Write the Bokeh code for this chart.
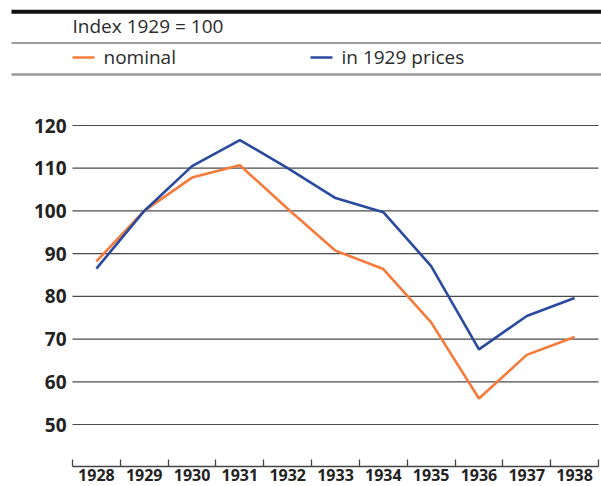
from bokeh.plotting import figure
from bokeh.models import Range1d, FixedTicker
from bokeh.embed import file_html
from bokeh.resources import INLINE
from bokeh.core.properties import value

# ---- data ----
years = ["1928", "1929", "1930", "1931", "1932", "1933", "1934", "1935", "1936", "1937", "1938"]
nominal = [88.2, 100.0, 107.8, 110.7, 100.5, 90.7, 86.4, 73.9, 56.1, 66.3, 70.5]
real_1929 = [86.5, 100.0, 110.5, 116.6, 110.0, 103.0, 99.7, 87.1, 67.6, 75.4, 79.6]
y_ticks = [50, 60, 70, 80, 90, 100, 110, 120]
series_names = ["nominal", "in 1929 prices"]
header_text = "Index 1929 = 100"

ORANGE = "#F47B3B"
BLUE = "#2A4A9E"
TEXT = "#2B2B2B"
FONT = "Open Sans"

W, H = 601, 486
# chart geometry in canvas pixels (frame spans the whole canvas)
X0, X1 = 72, 598              # first / last category boundary
Y_TOP_TICK, Y_TOP_PX = 120, 125
Y_BOT_TICK, Y_BOT_PX = 50, 424
AXIS_PX = 466

n = len(years)
cw = (X1 - X0) / n
ppu = (Y_BOT_PX - Y_TOP_PX) / (Y_TOP_TICK - Y_BOT_TICK)
x_lo, x_hi = -X0 / cw, (W - X0) / cw
y_hi = Y_TOP_TICK + Y_TOP_PX / ppu
y_lo = Y_BOT_TICK - (H - Y_BOT_PX) / ppu
axis_val = Y_BOT_TICK - (AXIS_PX - Y_BOT_PX) / ppu

p = figure(width=W, height=H, x_range=Range1d(x_lo, x_hi), y_range=Range1d(y_lo, y_hi),
           toolbar_location=None, output_backend="svg", min_border=0)
p.extra_x_ranges = {"px": Range1d(0, W)}
p.extra_y_ranges = {"px": Range1d(H, 0)}
p.outline_line_color = None
p.background_fill_color = "white"
p.border_fill_color = "white"
p.grid.visible = False

# horizontal grid lines, spanning the category area only
p.segment(x0=[0] * len(y_ticks), x1=[n] * len(y_ticks), y0=y_ticks, y1=y_ticks,
          line_color="#4a4a4a", line_width=1.2)

xs = [i + 0.5 for i in range(n)]
colors = [ORANGE, BLUE]
for series, c in zip([nominal, real_1929], colors):
    p.line(xs, series, line_color=c, line_width=2.6)

# y axis drawn at the left edge of the category area
ya = p.yaxis[0]
ya.fixed_location = 0
ya.ticker = FixedTicker(ticks=y_ticks)
ya.axis_line_color = None
ya.major_tick_line_color = None
ya.minor_tick_line_color = None
ya.major_tick_in = 0
ya.major_tick_out = 0
ya.minor_tick_in = 0
ya.minor_tick_out = 0
ya.major_label_standoff = 6
ya.major_label_text_font = FONT
ya.major_label_text_font_style = "bold"
ya.major_label_text_font_size = "19px"
ya.major_label_text_color = "#222222"

# x axis: labels at category centres, ticks at category boundaries
xa = p.xaxis[0]
xa.fixed_location = axis_val
xa.bounds = (0, n)
xa.ticker = FixedTicker(ticks=xs, minor_ticks=list(range(n + 1)))
xa.major_label_overrides = {x: y for x, y in zip(xs, years)}
xa.major_tick_line_color = None
xa.major_tick_in = 0
xa.major_tick_out = 0
xa.minor_tick_in = 7
xa.minor_tick_out = 0
xa.minor_tick_line_color = "#444444"
xa.minor_tick_line_width = 1.3
xa.axis_line_color = "#444444"
xa.axis_line_width = 1.3
xa.major_label_standoff = 2
xa.major_label_text_font = FONT
xa.major_label_text_font_style = "bold"
xa.major_label_text_font_size = "16px"
xa.major_label_text_color = "#222222"

# ---- header strip (pixel ranges) ----
px = dict(x_range_name="px", y_range_name="px")
p.quad(left=[11], right=[W], top=[9.3], bottom=[13.3], fill_color="#111111",
       line_color=None, **px)
p.segment(x0=[11], x1=[W], y0=[42.5], y1=[42.5], line_color="#3a3a3a", line_width=1, **px)
p.segment(x0=[11], x1=[W], y0=[74], y1=[74], line_color="#9a9a9a", line_width=2.5, **px)
p.text(x=[72], y=[25.2], text=[header_text], text_font=value(FONT), text_font_size="19px",
       text_color=TEXT, text_baseline="alphabetic", text_align="left", **px)

leg_x = [72, 310]
for lx, name, c in zip(leg_x, series_names, colors):
    p.segment(x0=[lx], x1=[lx + 22], y0=[57], y1=[57], line_color=c, line_width=2.5, **px)
    p.text(x=[lx + 31], y=[56.2], text=[name], text_font=value(FONT), text_font_size="19px",
           text_color=TEXT, text_baseline="alphabetic", text_align="left", **px)

open("out.html", "w").write(file_html(p, INLINE))
